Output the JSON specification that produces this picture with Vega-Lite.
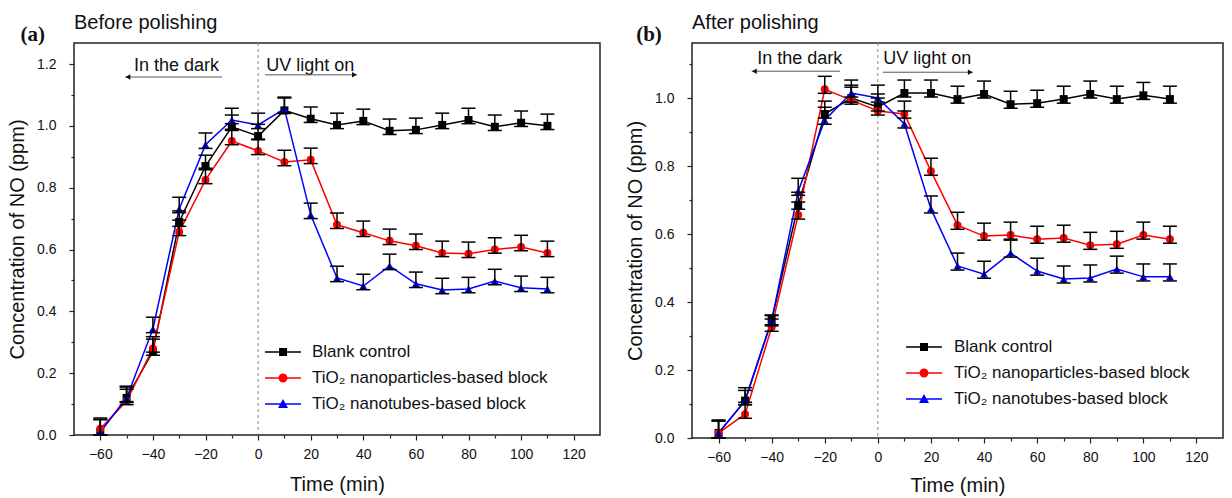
{
  "$schema": "https://vega.github.io/schema/vega-lite/v6.json",
  "background": "white",
  "padding": {"left": 6, "top": 12, "right": 4, "bottom": 0},
  "spacing": 23,
  "datasets": {
    "d": [
      {"p":"a","s":"Blank control","t":-60,"c":0.01,"lo":0.0,"hi":0.055},
      {"p":"a","s":"Blank control","t":-50,"c":0.12,"lo":0.105,"hi":0.155},
      {"p":"a","s":"Blank control","t":-40,"c":0.27,"lo":0.258,"hi":0.31},
      {"p":"a","s":"Blank control","t":-30,"c":0.689,"lo":0.675,"hi":0.725},
      {"p":"a","s":"Blank control","t":-20,"c":0.87,"lo":0.858,"hi":0.905},
      {"p":"a","s":"Blank control","t":-10,"c":0.997,"lo":0.985,"hi":1.035},
      {"p":"a","s":"Blank control","t":0,"c":0.967,"lo":0.955,"hi":1.005},
      {"p":"a","s":"Blank control","t":10,"c":1.05,"lo":1.04,"hi":1.09},
      {"p":"a","s":"Blank control","t":20,"c":1.023,"lo":1.011,"hi":1.061},
      {"p":"a","s":"Blank control","t":30,"c":1.003,"lo":0.991,"hi":1.041},
      {"p":"a","s":"Blank control","t":40,"c":1.016,"lo":1.004,"hi":1.054},
      {"p":"a","s":"Blank control","t":50,"c":0.984,"lo":0.972,"hi":1.022},
      {"p":"a","s":"Blank control","t":60,"c":0.987,"lo":0.975,"hi":1.025},
      {"p":"a","s":"Blank control","t":70,"c":1.003,"lo":0.991,"hi":1.041},
      {"p":"a","s":"Blank control","t":80,"c":1.019,"lo":1.007,"hi":1.057},
      {"p":"a","s":"Blank control","t":90,"c":0.997,"lo":0.985,"hi":1.035},
      {"p":"a","s":"Blank control","t":100,"c":1.01,"lo":0.998,"hi":1.048},
      {"p":"a","s":"Blank control","t":110,"c":1.0,"lo":0.988,"hi":1.038},
      {"p":"a","s":"TiO₂ nanoparticles-based block","t":-60,"c":0.02,"lo":0.0,"hi":0.05},
      {"p":"a","s":"TiO₂ nanoparticles-based block","t":-50,"c":0.11,"lo":0.098,"hi":0.148},
      {"p":"a","s":"TiO₂ nanoparticles-based block","t":-40,"c":0.28,"lo":0.268,"hi":0.318},
      {"p":"a","s":"TiO₂ nanoparticles-based block","t":-30,"c":0.657,"lo":0.645,"hi":0.695},
      {"p":"a","s":"TiO₂ nanoparticles-based block","t":-20,"c":0.825,"lo":0.813,"hi":0.863},
      {"p":"a","s":"TiO₂ nanoparticles-based block","t":-10,"c":0.951,"lo":0.939,"hi":0.989},
      {"p":"a","s":"TiO₂ nanoparticles-based block","t":0,"c":0.919,"lo":0.907,"hi":0.957},
      {"p":"a","s":"TiO₂ nanoparticles-based block","t":10,"c":0.883,"lo":0.871,"hi":0.921},
      {"p":"a","s":"TiO₂ nanoparticles-based block","t":20,"c":0.89,"lo":0.878,"hi":0.928},
      {"p":"a","s":"TiO₂ nanoparticles-based block","t":30,"c":0.68,"lo":0.668,"hi":0.718},
      {"p":"a","s":"TiO₂ nanoparticles-based block","t":40,"c":0.654,"lo":0.642,"hi":0.692},
      {"p":"a","s":"TiO₂ nanoparticles-based block","t":50,"c":0.628,"lo":0.616,"hi":0.666},
      {"p":"a","s":"TiO₂ nanoparticles-based block","t":60,"c":0.612,"lo":0.6,"hi":0.65},
      {"p":"a","s":"TiO₂ nanoparticles-based block","t":70,"c":0.589,"lo":0.577,"hi":0.627},
      {"p":"a","s":"TiO₂ nanoparticles-based block","t":80,"c":0.586,"lo":0.574,"hi":0.624},
      {"p":"a","s":"TiO₂ nanoparticles-based block","t":90,"c":0.6,"lo":0.588,"hi":0.638},
      {"p":"a","s":"TiO₂ nanoparticles-based block","t":100,"c":0.608,"lo":0.596,"hi":0.646},
      {"p":"a","s":"TiO₂ nanoparticles-based block","t":110,"c":0.589,"lo":0.577,"hi":0.627},
      {"p":"a","s":"TiO₂ nanotubes-based block","t":-60,"c":0.01,"lo":0.0,"hi":0.05},
      {"p":"a","s":"TiO₂ nanotubes-based block","t":-50,"c":0.12,"lo":0.108,"hi":0.158},
      {"p":"a","s":"TiO₂ nanotubes-based block","t":-40,"c":0.343,"lo":0.331,"hi":0.381},
      {"p":"a","s":"TiO₂ nanotubes-based block","t":-30,"c":0.731,"lo":0.719,"hi":0.769},
      {"p":"a","s":"TiO₂ nanotubes-based block","t":-20,"c":0.939,"lo":0.927,"hi":0.977},
      {"p":"a","s":"TiO₂ nanotubes-based block","t":-10,"c":1.019,"lo":1.007,"hi":1.057},
      {"p":"a","s":"TiO₂ nanotubes-based block","t":0,"c":1.003,"lo":0.991,"hi":1.041},
      {"p":"a","s":"TiO₂ nanotubes-based block","t":10,"c":1.055,"lo":1.043,"hi":1.093},
      {"p":"a","s":"TiO₂ nanotubes-based block","t":20,"c":0.712,"lo":0.7,"hi":0.75},
      {"p":"a","s":"TiO₂ nanotubes-based block","t":30,"c":0.508,"lo":0.496,"hi":0.546},
      {"p":"a","s":"TiO₂ nanotubes-based block","t":40,"c":0.482,"lo":0.47,"hi":0.52},
      {"p":"a","s":"TiO₂ nanotubes-based block","t":50,"c":0.547,"lo":0.535,"hi":0.585},
      {"p":"a","s":"TiO₂ nanotubes-based block","t":60,"c":0.489,"lo":0.477,"hi":0.527},
      {"p":"a","s":"TiO₂ nanotubes-based block","t":70,"c":0.469,"lo":0.457,"hi":0.507},
      {"p":"a","s":"TiO₂ nanotubes-based block","t":80,"c":0.472,"lo":0.46,"hi":0.51},
      {"p":"a","s":"TiO₂ nanotubes-based block","t":90,"c":0.498,"lo":0.486,"hi":0.536},
      {"p":"a","s":"TiO₂ nanotubes-based block","t":100,"c":0.476,"lo":0.464,"hi":0.514},
      {"p":"a","s":"TiO₂ nanotubes-based block","t":110,"c":0.472,"lo":0.46,"hi":0.51},
      {"p":"b","s":"Blank control","t":-60,"c":0.015,"lo":0.0,"hi":0.053},
      {"p":"b","s":"Blank control","t":-50,"c":0.11,"lo":0.098,"hi":0.148},
      {"p":"b","s":"Blank control","t":-40,"c":0.347,"lo":0.33,"hi":0.362},
      {"p":"b","s":"Blank control","t":-30,"c":0.685,"lo":0.673,"hi":0.723},
      {"p":"b","s":"Blank control","t":-20,"c":0.953,"lo":0.941,"hi":0.991},
      {"p":"b","s":"Blank control","t":-10,"c":1.0,"lo":0.988,"hi":1.038},
      {"p":"b","s":"Blank control","t":0,"c":0.974,"lo":0.962,"hi":1.012},
      {"p":"b","s":"Blank control","t":10,"c":1.015,"lo":1.003,"hi":1.053},
      {"p":"b","s":"Blank control","t":20,"c":1.015,"lo":1.003,"hi":1.053},
      {"p":"b","s":"Blank control","t":30,"c":0.997,"lo":0.985,"hi":1.035},
      {"p":"b","s":"Blank control","t":40,"c":1.012,"lo":1.0,"hi":1.05},
      {"p":"b","s":"Blank control","t":50,"c":0.982,"lo":0.97,"hi":1.02},
      {"p":"b","s":"Blank control","t":60,"c":0.985,"lo":0.973,"hi":1.023},
      {"p":"b","s":"Blank control","t":70,"c":0.997,"lo":0.985,"hi":1.035},
      {"p":"b","s":"Blank control","t":80,"c":1.012,"lo":1.0,"hi":1.05},
      {"p":"b","s":"Blank control","t":90,"c":0.997,"lo":0.985,"hi":1.035},
      {"p":"b","s":"Blank control","t":100,"c":1.008,"lo":0.996,"hi":1.046},
      {"p":"b","s":"Blank control","t":110,"c":0.997,"lo":0.985,"hi":1.035},
      {"p":"b","s":"TiO₂ nanoparticles-based block","t":-60,"c":0.015,"lo":0.0,"hi":0.05},
      {"p":"b","s":"TiO₂ nanoparticles-based block","t":-50,"c":0.07,"lo":0.058,"hi":0.105},
      {"p":"b","s":"TiO₂ nanoparticles-based block","t":-40,"c":0.326,"lo":0.314,"hi":0.35},
      {"p":"b","s":"TiO₂ nanoparticles-based block","t":-30,"c":0.656,"lo":0.644,"hi":0.694},
      {"p":"b","s":"TiO₂ nanoparticles-based block","t":-20,"c":1.026,"lo":1.014,"hi":1.064},
      {"p":"b","s":"TiO₂ nanoparticles-based block","t":-10,"c":0.994,"lo":0.982,"hi":1.032},
      {"p":"b","s":"TiO₂ nanoparticles-based block","t":0,"c":0.962,"lo":0.95,"hi":1.0},
      {"p":"b","s":"TiO₂ nanoparticles-based block","t":10,"c":0.953,"lo":0.941,"hi":0.991},
      {"p":"b","s":"TiO₂ nanoparticles-based block","t":20,"c":0.785,"lo":0.773,"hi":0.823},
      {"p":"b","s":"TiO₂ nanoparticles-based block","t":30,"c":0.626,"lo":0.614,"hi":0.664},
      {"p":"b","s":"TiO₂ nanoparticles-based block","t":40,"c":0.594,"lo":0.582,"hi":0.632},
      {"p":"b","s":"TiO₂ nanoparticles-based block","t":50,"c":0.597,"lo":0.585,"hi":0.635},
      {"p":"b","s":"TiO₂ nanoparticles-based block","t":60,"c":0.585,"lo":0.573,"hi":0.623},
      {"p":"b","s":"TiO₂ nanoparticles-based block","t":70,"c":0.588,"lo":0.576,"hi":0.626},
      {"p":"b","s":"TiO₂ nanoparticles-based block","t":80,"c":0.567,"lo":0.555,"hi":0.605},
      {"p":"b","s":"TiO₂ nanoparticles-based block","t":90,"c":0.57,"lo":0.558,"hi":0.608},
      {"p":"b","s":"TiO₂ nanoparticles-based block","t":100,"c":0.597,"lo":0.585,"hi":0.635},
      {"p":"b","s":"TiO₂ nanoparticles-based block","t":110,"c":0.585,"lo":0.573,"hi":0.623},
      {"p":"b","s":"TiO₂ nanotubes-based block","t":-60,"c":0.015,"lo":0.0,"hi":0.05},
      {"p":"b","s":"TiO₂ nanotubes-based block","t":-50,"c":0.11,"lo":0.098,"hi":0.14},
      {"p":"b","s":"TiO₂ nanotubes-based block","t":-40,"c":0.345,"lo":0.333,"hi":0.36},
      {"p":"b","s":"TiO₂ nanotubes-based block","t":-30,"c":0.726,"lo":0.714,"hi":0.764},
      {"p":"b","s":"TiO₂ nanotubes-based block","t":-20,"c":0.935,"lo":0.923,"hi":0.973},
      {"p":"b","s":"TiO₂ nanotubes-based block","t":-10,"c":1.015,"lo":1.003,"hi":1.053},
      {"p":"b","s":"TiO₂ nanotubes-based block","t":0,"c":1.0,"lo":0.988,"hi":1.038},
      {"p":"b","s":"TiO₂ nanotubes-based block","t":10,"c":0.924,"lo":0.912,"hi":0.962},
      {"p":"b","s":"TiO₂ nanotubes-based block","t":20,"c":0.674,"lo":0.662,"hi":0.712},
      {"p":"b","s":"TiO₂ nanotubes-based block","t":30,"c":0.506,"lo":0.494,"hi":0.544},
      {"p":"b","s":"TiO₂ nanotubes-based block","t":40,"c":0.482,"lo":0.47,"hi":0.52},
      {"p":"b","s":"TiO₂ nanotubes-based block","t":50,"c":0.544,"lo":0.532,"hi":0.582},
      {"p":"b","s":"TiO₂ nanotubes-based block","t":60,"c":0.491,"lo":0.479,"hi":0.529},
      {"p":"b","s":"TiO₂ nanotubes-based block","t":70,"c":0.468,"lo":0.456,"hi":0.506},
      {"p":"b","s":"TiO₂ nanotubes-based block","t":80,"c":0.471,"lo":0.459,"hi":0.509},
      {"p":"b","s":"TiO₂ nanotubes-based block","t":90,"c":0.497,"lo":0.485,"hi":0.535},
      {"p":"b","s":"TiO₂ nanotubes-based block","t":100,"c":0.474,"lo":0.462,"hi":0.512},
      {"p":"b","s":"TiO₂ nanotubes-based block","t":110,"c":0.474,"lo":0.462,"hi":0.512}
    ],
    "ann": [
      {"p":"a","k":"note","label":"In the dark","x":-31,"y":1.194},
      {"p":"a","k":"note","label":"UV light on","x":19.8,"y":1.194},
      {"p":"a","k":"tag","label":"(a)","x":-85.7,"y":1.294},
      {"p":"b","k":"note","label":"In the dark","x":-29.4,"y":1.115},
      {"p":"b","k":"note","label":"UV light on","x":18.6,"y":1.115},
      {"p":"b","k":"tag","label":"(b)","x":-86.2,"y":1.185}
    ],
    "arr": [
      {"p":"a","dir":"left","x1":-50.5,"x2":-13.7,"y":1.158,"h":-49.5},
      {"p":"a","dir":"right","x1":2.7,"x2":37.6,"y":1.165,"h":36.6},
      {"p":"b","dir":"left","x1":-47.5,"x2":-14.3,"y":1.079,"h":-46.5},
      {"p":"b","dir":"right","x1":1.9,"x2":35.8,"y":1.076,"h":34.8}
    ]
  },
  "resolve": {"scale": {"color": "independent"}, "legend": {"color": "independent"}},
  "hconcat": [
    {
      "title": {"text": "Before polishing"},
      "width": 526,
      "height": 392,
      "resolve": {"axis": {"x": "independent", "y": "independent"}},
      "layer": [
        {
          "data": {"values": [{"t": 0}]},
          "mark": {"type": "rule", "color": "#888888", "strokeDash": [3, 3], "strokeWidth": 1},
          "encoding": {
            "x": {"field": "t", "type": "quantitative", "scale": {"domain": [-70, 130], "nice": false, "zero": false},
                  "axis": {"orient": "bottom", "values": [-50, -30, -10, 10, 30, 50, 70, 90, 110], "labels": false, "tickSize": 3, "title": null, "domain": false, "grid": false}}
          }
        },
        {
          "data": {"name": "d"},
          "transform": [{"filter": "datum.p === 'a'"}],
          "mark": {"type": "line", "strokeWidth": 1.5},
          "encoding": {
            "x": {"field": "t", "type": "quantitative", "scale": {"domain": [-70, 130], "nice": false, "zero": false},
                  "axis": {"orient": "bottom", "values": [-60, -40, -20, 0, 20, 40, 60, 80, 100, 120], "format": "d", "title": "Time (min)", "tickSize": 5, "labelPadding": 7, "titlePadding": 13, "domain": false, "grid": false}},
            "y": {"field": "c", "type": "quantitative", "scale": {"domain": [0, 1.268], "nice": false, "zero": false},
                  "axis": {"orient": "left", "values": [0, 0.2, 0.4, 0.6, 0.8, 1.0, 1.2], "format": ".1f", "title": "Concentration of NO (ppm)", "tickSize": 5, "labelPadding": 13, "titlePadding": 9, "domain": false, "grid": false}},
            "color": {"field": "s", "type": "nominal",
                      "scale": {"domain": ["Blank control", "TiO₂ nanoparticles-based block", "TiO₂ nanotubes-based block"], "range": ["#000000", "#ff0000", "#0000ff"]},
                      "legend": {"title": null, "orient": "none", "legendX": 199, "legendY": 299, "padding": 0, "symbolSize": 400, "labelOffset": 19, "rowPadding": 8,
                                 "encode": {"symbols": {"update": {
                                   "shape": {"signal": "datum.value === 'Blank control' ? 'M-1.8,-0.075H1.8V0.075H-1.8Z M-0.4,-0.4H0.4V0.4H-0.4Z' : datum.value === 'TiO₂ nanoparticles-based block' ? 'M-1.8,-0.075H1.8V0.075H-1.8Z M0.45,0A0.45,0.45 0 1,1 -0.45,0A0.45,0.45 0 1,1 0.45,0Z' : 'M-1.8,-0.075H1.8V0.075H-1.8Z M0,-0.5L0.5,0.4H-0.5Z'"},
                                   "fill": {"signal": "datum.value === 'Blank control' ? '#000000' : datum.value === 'TiO₂ nanoparticles-based block' ? '#ff0000' : '#0000ff'"},
                                   "stroke": {"value": "transparent"},
                                   "strokeWidth": {"value": 0},
                                   "size": {"value": 400},
                                   "opacity": {"value": 1}
                                 }}}}}
          }
        },
        {
          "data": {"name": "d"},
          "transform": [{"filter": "datum.p === 'a' && datum.s === 'Blank control'"}],
          "mark": {"type": "point", "shape": "square", "filled": true, "opacity": 1, "size": 64, "color": "#000000"},
          "encoding": {
            "x": {"field": "t", "type": "quantitative", "scale": {"domain": [-70, 130], "nice": false, "zero": false}, "axis": null},
            "y": {"field": "c", "type": "quantitative", "scale": {"domain": [0, 1.268], "nice": false, "zero": false},
                  "axis": {"orient": "left", "values": [0.1, 0.3, 0.5, 0.7, 0.9, 1.1], "labels": false, "tickSize": 3, "title": null, "domain": false, "grid": false}}
          }
        },
        {
          "data": {"name": "d"},
          "transform": [{"filter": "datum.p === 'a' && datum.s === 'TiO₂ nanoparticles-based block'"}],
          "mark": {"type": "point", "shape": "circle", "filled": true, "opacity": 1, "size": 64, "color": "#ff0000"},
          "encoding": {
            "x": {"field": "t", "type": "quantitative", "scale": {"domain": [-70, 130], "nice": false, "zero": false}, "axis": null},
            "y": {"field": "c", "type": "quantitative", "scale": {"domain": [0, 1.268], "nice": false, "zero": false}, "axis": null}
          }
        },
        {
          "data": {"name": "d"},
          "transform": [{"filter": "datum.p === 'a' && datum.s === 'TiO₂ nanotubes-based block'"}],
          "mark": {"type": "point", "shape": "triangle-up", "filled": true, "opacity": 1, "size": 64, "color": "#0000ff"},
          "encoding": {
            "x": {"field": "t", "type": "quantitative", "scale": {"domain": [-70, 130], "nice": false, "zero": false}, "axis": null},
            "y": {"field": "c", "type": "quantitative", "scale": {"domain": [0, 1.268], "nice": false, "zero": false}, "axis": null}
          }
        },
        {
          "data": {"name": "d"},
          "transform": [{"filter": "datum.p === 'a'"}],
          "mark": {"type": "rule", "color": "#000000", "strokeWidth": 1.5},
          "encoding": {
            "x": {"field": "t", "type": "quantitative", "scale": {"domain": [-70, 130], "nice": false, "zero": false}, "axis": null},
            "y": {"field": "lo", "type": "quantitative", "scale": {"domain": [0, 1.268], "nice": false, "zero": false}, "axis": null},
            "y2": {"field": "hi"}
          }
        },
        {
          "data": {"name": "d"},
          "transform": [{"filter": "datum.p === 'a'"}],
          "mark": {"type": "tick", "orient": "horizontal", "color": "#000000", "size": 14, "thickness": 1.5, "opacity": 1},
          "encoding": {
            "x": {"field": "t", "type": "quantitative", "scale": {"domain": [-70, 130], "nice": false, "zero": false}, "axis": null},
            "y": {"field": "hi", "type": "quantitative", "scale": {"domain": [0, 1.268], "nice": false, "zero": false}, "axis": null}
          }
        },
        {
          "data": {"name": "d"},
          "transform": [{"filter": "datum.p === 'a'"}],
          "mark": {"type": "tick", "orient": "horizontal", "color": "#000000", "size": 14, "thickness": 1.5, "opacity": 1},
          "encoding": {
            "x": {"field": "t", "type": "quantitative", "scale": {"domain": [-70, 130], "nice": false, "zero": false}, "axis": null},
            "y": {"field": "lo", "type": "quantitative", "scale": {"domain": [0, 1.268], "nice": false, "zero": false}, "axis": null}
          }
        },
        {
          "data": {"name": "ann"},
          "transform": [{"filter": "datum.p === 'a' && datum.k === 'note'"}],
          "mark": {"type": "text", "font": "Liberation Sans", "fontSize": 18, "color": "#111111", "align": "center", "baseline": "middle"},
          "encoding": {
            "x": {"field": "x", "type": "quantitative", "scale": {"domain": [-70, 130], "nice": false, "zero": false}, "axis": null},
            "y": {"field": "y", "type": "quantitative", "scale": {"domain": [0, 1.268], "nice": false, "zero": false}, "axis": null},
            "text": {"field": "label"}
          }
        },
        {
          "data": {"name": "ann"},
          "transform": [{"filter": "datum.p === 'a' && datum.k === 'tag'"}],
          "mark": {"type": "text", "font": "Liberation Serif", "fontWeight": "bold", "fontSize": 21, "color": "#111111", "align": "center", "baseline": "middle", "clip": false},
          "encoding": {
            "x": {"field": "x", "type": "quantitative", "scale": {"domain": [-70, 130], "nice": false, "zero": false}, "axis": null},
            "y": {"field": "y", "type": "quantitative", "scale": {"domain": [0, 1.268], "nice": false, "zero": false}, "axis": null},
            "text": {"field": "label"}
          }
        },
        {
          "data": {"name": "arr"},
          "transform": [{"filter": "datum.p === 'a'"}],
          "mark": {"type": "rule", "color": "#555555", "strokeWidth": 1},
          "encoding": {
            "x": {"field": "x1", "type": "quantitative", "scale": {"domain": [-70, 130], "nice": false, "zero": false}, "axis": null},
            "x2": {"field": "x2"},
            "y": {"field": "y", "type": "quantitative", "scale": {"domain": [0, 1.268], "nice": false, "zero": false}, "axis": null}
          }
        },
        {
          "data": {"name": "arr"},
          "transform": [{"filter": "datum.p === 'a' && datum.dir === 'left'"}],
          "mark": {"type": "point", "shape": "triangle-left", "filled": true, "color": "#111111", "size": 30, "opacity": 1},
          "encoding": {
            "x": {"field": "h", "type": "quantitative", "scale": {"domain": [-70, 130], "nice": false, "zero": false}, "axis": null},
            "y": {"field": "y", "type": "quantitative", "scale": {"domain": [0, 1.268], "nice": false, "zero": false}, "axis": null}
          }
        },
        {
          "data": {"name": "arr"},
          "transform": [{"filter": "datum.p === 'a' && datum.dir === 'right'"}],
          "mark": {"type": "point", "shape": "triangle-right", "filled": true, "color": "#111111", "size": 30, "opacity": 1},
          "encoding": {
            "x": {"field": "h", "type": "quantitative", "scale": {"domain": [-70, 130], "nice": false, "zero": false}, "axis": null},
            "y": {"field": "y", "type": "quantitative", "scale": {"domain": [0, 1.268], "nice": false, "zero": false}, "axis": null}
          }
        }
      ]
    },
    {
      "title": {"text": "After polishing"},
      "width": 531,
      "height": 395,
      "resolve": {"axis": {"x": "independent", "y": "independent"}},
      "layer": [
        {
          "data": {"values": [{"t": 0}]},
          "mark": {"type": "rule", "color": "#888888", "strokeDash": [3, 3], "strokeWidth": 1},
          "encoding": {
            "x": {"field": "t", "type": "quantitative", "scale": {"domain": [-70, 130], "nice": false, "zero": false},
                  "axis": {"orient": "bottom", "values": [-50, -30, -10, 10, 30, 50, 70, 90, 110], "labels": false, "tickSize": 3, "title": null, "domain": false, "grid": false}}
          }
        },
        {
          "data": {"name": "d"},
          "transform": [{"filter": "datum.p === 'b'"}],
          "mark": {"type": "line", "strokeWidth": 1.5},
          "encoding": {
            "x": {"field": "t", "type": "quantitative", "scale": {"domain": [-70, 130], "nice": false, "zero": false},
                  "axis": {"orient": "bottom", "values": [-60, -40, -20, 0, 20, 40, 60, 80, 100, 120], "format": "d", "title": "Time (min)", "tickSize": 5, "labelPadding": 7, "titlePadding": 11, "domain": false, "grid": false}},
            "y": {"field": "c", "type": "quantitative", "scale": {"domain": [0, 1.162], "nice": false, "zero": false},
                  "axis": {"orient": "left", "values": [0, 0.2, 0.4, 0.6, 0.8, 1.0], "format": ".1f", "title": "Concentration of NO (ppm)", "tickSize": 5, "labelPadding": 13, "titlePadding": 9, "domain": false, "grid": false}},
            "color": {"field": "s", "type": "nominal",
                      "scale": {"domain": ["Blank control", "TiO₂ nanoparticles-based block", "TiO₂ nanotubes-based block"], "range": ["#000000", "#ff0000", "#0000ff"]},
                      "legend": {"title": null, "orient": "none", "legendX": 222, "legendY": 294, "padding": 0, "symbolSize": 400, "labelOffset": 20, "rowPadding": 8,
                                 "encode": {"symbols": {"update": {
                                   "shape": {"signal": "datum.value === 'Blank control' ? 'M-1.8,-0.075H1.8V0.075H-1.8Z M-0.4,-0.4H0.4V0.4H-0.4Z' : datum.value === 'TiO₂ nanoparticles-based block' ? 'M-1.8,-0.075H1.8V0.075H-1.8Z M0.45,0A0.45,0.45 0 1,1 -0.45,0A0.45,0.45 0 1,1 0.45,0Z' : 'M-1.8,-0.075H1.8V0.075H-1.8Z M0,-0.5L0.5,0.4H-0.5Z'"},
                                   "fill": {"signal": "datum.value === 'Blank control' ? '#000000' : datum.value === 'TiO₂ nanoparticles-based block' ? '#ff0000' : '#0000ff'"},
                                   "stroke": {"value": "transparent"},
                                   "strokeWidth": {"value": 0},
                                   "size": {"value": 400},
                                   "opacity": {"value": 1}
                                 }}}}}
          }
        },
        {
          "data": {"name": "d"},
          "transform": [{"filter": "datum.p === 'b' && datum.s === 'Blank control'"}],
          "mark": {"type": "point", "shape": "square", "filled": true, "opacity": 1, "size": 64, "color": "#000000"},
          "encoding": {
            "x": {"field": "t", "type": "quantitative", "scale": {"domain": [-70, 130], "nice": false, "zero": false}, "axis": null},
            "y": {"field": "c", "type": "quantitative", "scale": {"domain": [0, 1.162], "nice": false, "zero": false},
                  "axis": {"orient": "left", "values": [0.1, 0.3, 0.5, 0.7, 0.9, 1.1], "labels": false, "tickSize": 3, "title": null, "domain": false, "grid": false}}
          }
        },
        {
          "data": {"name": "d"},
          "transform": [{"filter": "datum.p === 'b' && datum.s === 'TiO₂ nanoparticles-based block'"}],
          "mark": {"type": "point", "shape": "circle", "filled": true, "opacity": 1, "size": 64, "color": "#ff0000"},
          "encoding": {
            "x": {"field": "t", "type": "quantitative", "scale": {"domain": [-70, 130], "nice": false, "zero": false}, "axis": null},
            "y": {"field": "c", "type": "quantitative", "scale": {"domain": [0, 1.162], "nice": false, "zero": false}, "axis": null}
          }
        },
        {
          "data": {"name": "d"},
          "transform": [{"filter": "datum.p === 'b' && datum.s === 'TiO₂ nanotubes-based block'"}],
          "mark": {"type": "point", "shape": "triangle-up", "filled": true, "opacity": 1, "size": 64, "color": "#0000ff"},
          "encoding": {
            "x": {"field": "t", "type": "quantitative", "scale": {"domain": [-70, 130], "nice": false, "zero": false}, "axis": null},
            "y": {"field": "c", "type": "quantitative", "scale": {"domain": [0, 1.162], "nice": false, "zero": false}, "axis": null}
          }
        },
        {
          "data": {"name": "d"},
          "transform": [{"filter": "datum.p === 'b'"}],
          "mark": {"type": "rule", "color": "#000000", "strokeWidth": 1.5},
          "encoding": {
            "x": {"field": "t", "type": "quantitative", "scale": {"domain": [-70, 130], "nice": false, "zero": false}, "axis": null},
            "y": {"field": "lo", "type": "quantitative", "scale": {"domain": [0, 1.162], "nice": false, "zero": false}, "axis": null},
            "y2": {"field": "hi"}
          }
        },
        {
          "data": {"name": "d"},
          "transform": [{"filter": "datum.p === 'b'"}],
          "mark": {"type": "tick", "orient": "horizontal", "color": "#000000", "size": 14, "thickness": 1.5, "opacity": 1},
          "encoding": {
            "x": {"field": "t", "type": "quantitative", "scale": {"domain": [-70, 130], "nice": false, "zero": false}, "axis": null},
            "y": {"field": "hi", "type": "quantitative", "scale": {"domain": [0, 1.162], "nice": false, "zero": false}, "axis": null}
          }
        },
        {
          "data": {"name": "d"},
          "transform": [{"filter": "datum.p === 'b'"}],
          "mark": {"type": "tick", "orient": "horizontal", "color": "#000000", "size": 14, "thickness": 1.5, "opacity": 1},
          "encoding": {
            "x": {"field": "t", "type": "quantitative", "scale": {"domain": [-70, 130], "nice": false, "zero": false}, "axis": null},
            "y": {"field": "lo", "type": "quantitative", "scale": {"domain": [0, 1.162], "nice": false, "zero": false}, "axis": null}
          }
        },
        {
          "data": {"name": "ann"},
          "transform": [{"filter": "datum.p === 'b' && datum.k === 'note'"}],
          "mark": {"type": "text", "font": "Liberation Sans", "fontSize": 18, "color": "#111111", "align": "center", "baseline": "middle"},
          "encoding": {
            "x": {"field": "x", "type": "quantitative", "scale": {"domain": [-70, 130], "nice": false, "zero": false}, "axis": null},
            "y": {"field": "y", "type": "quantitative", "scale": {"domain": [0, 1.162], "nice": false, "zero": false}, "axis": null},
            "text": {"field": "label"}
          }
        },
        {
          "data": {"name": "ann"},
          "transform": [{"filter": "datum.p === 'b' && datum.k === 'tag'"}],
          "mark": {"type": "text", "font": "Liberation Serif", "fontWeight": "bold", "fontSize": 21, "color": "#111111", "align": "center", "baseline": "middle", "clip": false},
          "encoding": {
            "x": {"field": "x", "type": "quantitative", "scale": {"domain": [-70, 130], "nice": false, "zero": false}, "axis": null},
            "y": {"field": "y", "type": "quantitative", "scale": {"domain": [0, 1.162], "nice": false, "zero": false}, "axis": null},
            "text": {"field": "label"}
          }
        },
        {
          "data": {"name": "arr"},
          "transform": [{"filter": "datum.p === 'b'"}],
          "mark": {"type": "rule", "color": "#555555", "strokeWidth": 1},
          "encoding": {
            "x": {"field": "x1", "type": "quantitative", "scale": {"domain": [-70, 130], "nice": false, "zero": false}, "axis": null},
            "x2": {"field": "x2"},
            "y": {"field": "y", "type": "quantitative", "scale": {"domain": [0, 1.162], "nice": false, "zero": false}, "axis": null}
          }
        },
        {
          "data": {"name": "arr"},
          "transform": [{"filter": "datum.p === 'b' && datum.dir === 'left'"}],
          "mark": {"type": "point", "shape": "triangle-left", "filled": true, "color": "#111111", "size": 30, "opacity": 1},
          "encoding": {
            "x": {"field": "h", "type": "quantitative", "scale": {"domain": [-70, 130], "nice": false, "zero": false}, "axis": null},
            "y": {"field": "y", "type": "quantitative", "scale": {"domain": [0, 1.162], "nice": false, "zero": false}, "axis": null}
          }
        },
        {
          "data": {"name": "arr"},
          "transform": [{"filter": "datum.p === 'b' && datum.dir === 'right'"}],
          "mark": {"type": "point", "shape": "triangle-right", "filled": true, "color": "#111111", "size": 30, "opacity": 1},
          "encoding": {
            "x": {"field": "h", "type": "quantitative", "scale": {"domain": [-70, 130], "nice": false, "zero": false}, "axis": null},
            "y": {"field": "y", "type": "quantitative", "scale": {"domain": [0, 1.162], "nice": false, "zero": false}, "axis": null}
          }
        }
      ]
    }
  ],
  "config": {
    "font": "Liberation Sans",
    "view": {"stroke": "#222222", "strokeWidth": 1.5},
    "axis": {"labelFont": "Liberation Sans", "titleFont": "Liberation Sans", "labelFontSize": 14, "titleFontSize": 20, "titleFontWeight": "normal", "labelColor": "#111111", "titleColor": "#111111", "tickColor": "#222222", "tickWidth": 1.2},
    "legend": {"labelFont": "Liberation Sans", "labelFontSize": 17, "labelColor": "#111111", "labelLimit": 400},
    "title": {"font": "Liberation Sans", "fontSize": 20, "fontWeight": "normal", "color": "#111111", "anchor": "start", "frame": "group", "offset": -9}
  }
}
